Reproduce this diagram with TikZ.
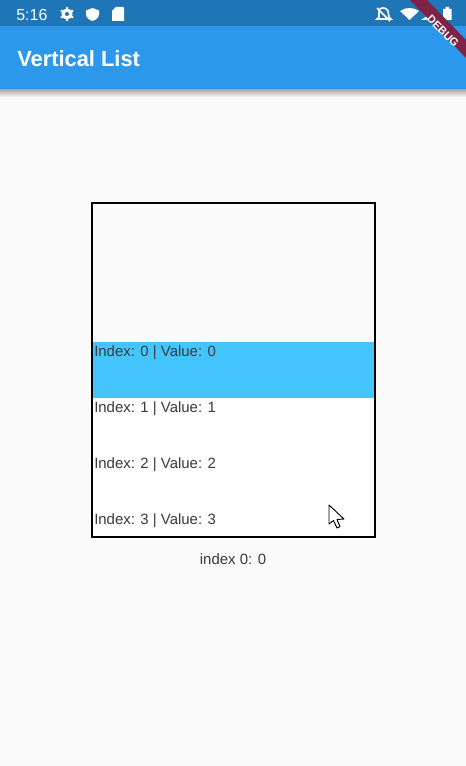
\documentclass[tikz,border=0pt]{standalone}
\usepackage{fontspec}
\setmainfont{Liberation Sans}
\usetikzlibrary{calc}
\definecolor{statusblue}{HTML}{1E76B6}
\definecolor{barblue}{HTML}{2C98EC}
\definecolor{pagegrey}{HTML}{FAFAFA}
\definecolor{rowblue}{HTML}{45C5FD}
\definecolor{ribbonred}{HTML}{7E2248}
\definecolor{inktext}{HTML}{3A3A3A}
\begin{document}
\begin{tikzpicture}[x=0.75pt,y=-0.75pt]
            \tikzstyle{row label}=[right,inner sep=0,text=inktext,font=\fontsize{11.2}{13}\selectfont];
            \tikzstyle{status label}=[text=white,font=\fontsize{12}{14}\selectfont];
            \tikzstyle{status icon}=[fill=white,draw=none];
            \useasboundingbox (0,0) rectangle (466,766);
            \fill[pagegrey] (0,0) rectangle (466,766);
            % bars
            \shade[top color=gray!70,bottom color=pagegrey] (0,89) rectangle (466,97);
            \fill[barblue] (0,26) rectangle (466,89.5);
            \fill[statusblue] (0,0) rectangle (466,26);
            \node[status label,anchor=west,inner sep=0] (clock) at (16,15) {5:16};
            \node[right,inner sep=0,text=white,font=\fontsize{16.4}{20}\selectfont\bfseries] (title) at (17,59) {Vertical List};
            % status icons, left
            \fill[status icon,even odd rule] (67,14) circle (5.6) (67,14) circle (2.2);
            \foreach \a in {30,90,...,330} \fill[status icon] (67,14)++(\a:6) circle (1.4);
            \fill[status icon] (92.5,8)--(99,10.5)--(99,14) .. controls (99,17.5) and (96,20) .. (92.5,21) .. controls (89,20) and (86,17.5) .. (86,14)--(86,10.5)--cycle;
            \fill[status icon] (116,7)--(123,7)--(124,8)--(124,21)--(112,21)--(112,11)--cycle;
            % status icons, right
            \draw[white,line width=1.2] (379,10) .. controls (381,7) and (386,7) .. (388,11)--(389,17)--(391,19)--(377,19)--(379,17)--cycle;
            \draw[white,line width=1.1] (377,8)--(390,21);
            \fill[status icon] (400,11) .. controls (406,7) and (413,7) .. (419,11)--(409.5,20)--cycle;
            \fill[status icon] (421,20)--(436,20)--(436,10)--cycle;
            \fill[status icon] (443,9)--(445.5,9)--(445.5,7)--(449,7)--(449,9)--(451.5,9)--(451.5,20)--(443,20)--cycle;
            % list box
            \fill[white] (93,342) rectangle (375,537);
            \fill[rowblue] (93,342) rectangle (375,398);
            \node[row label] (rowzero) at (94,353) {Index: 0 | Value: 0};
            \node[row label] (rowone) at (94,409) {Index: 1 | Value: 1};
            \node[row label] (rowtwo) at (94,465) {Index: 2 | Value: 2};
            \node[row label] (rowthree) at (94,521) {Index: 3 | Value: 3};
            \draw[black,line width=1.5] (92.4,203) rectangle (375,537);
            \node[inner sep=0,text=inktext,font=\fontsize{11.2}{13}\selectfont] (caption) at (233,559) {index 0: 0};
            % mouse pointer
            \draw[black,fill=white,line width=0.7,line join=round] (329,505)--(329,524)--(333.5,520.5)--(337,528)--(340,526.5)--(337,519.5)--(344,519)--cycle;
            % debug ribbon
            \fill[ribbonred] (410,0)--(427,0)--(466,40)--(466,58)--cycle;
            \node[rotate=-45,inner sep=0,text=white,font=\fontsize{8.2}{10}\selectfont\bfseries] (debug) at (443,31) {DEBUG};
            \end{tikzpicture}
\end{document}
